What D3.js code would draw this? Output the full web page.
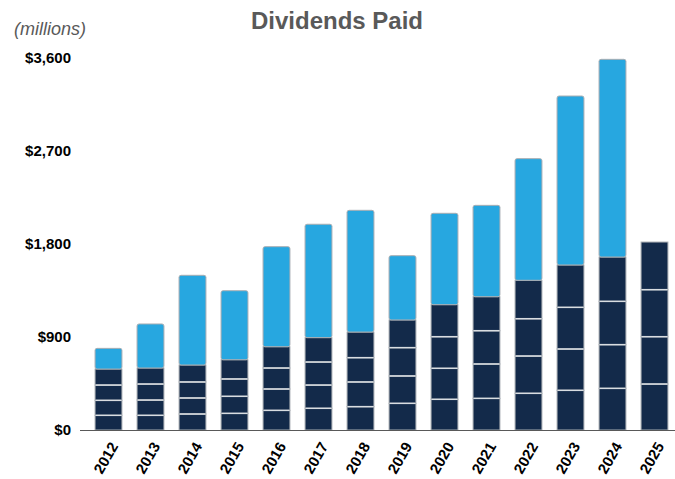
<!DOCTYPE html>
<html>
<head>
<meta charset="utf-8">
<script src="https://cdn.jsdelivr.net/npm/d3@7"></script>
<style>
  body { margin: 0; background: #fff; }
  svg { display: block; font-family: "Liberation Sans", Arial, sans-serif; }
</style>
</head>
<body>
<svg width="675" height="479"></svg>
<script>
// data (millions)
const years = ["2012","2013","2014","2015","2016","2017","2018","2019","2020","2021","2022","2023","2024","2025"];
const q1 = [142, 142, 155, 161, 190, 210, 226, 258, 297, 306, 355, 384, 403, 445];
const q2 = [145, 148, 155, 165, 207, 225, 239, 265, 300, 333, 361, 400, 423, 458];
const q3 = [148, 155, 155, 168, 203, 223, 235, 274, 306, 322, 361, 403, 419, 455];
const q4 = [155, 155, 164, 186, 206, 236, 248, 268, 310, 329, 372, 410, 429, 461];
const special = [200, 426, 868, 668, 968, 1097, 1178, 622, 884, 884, 1177, 1635, 1913, 0];
const yTicks = [0, 900, 1800, 2700, 3600];

const svg = d3.select("svg");
const baseY = 430, topY = 58;

const rows = years.map((y, i) => ({year: y, q1: q1[i], q2: q2[i], q3: q3[i], q4: q4[i], special: special[i]}));
const keys = ["q1", "q2", "q3", "q4", "special"];
const series = d3.stack().keys(keys)(rows);

const x = d3.scaleBand().domain(years).range([87.5, 675.5]).paddingInner(0.36).paddingOuter(0.18);
const y = d3.scaleLinear().domain([0, 3600]).range([baseY, topY]);

// title
svg.append("text")
    .attr("x", 337).attr("y", 29)
    .attr("text-anchor", "middle")
    .style("font-size", "24px").style("font-weight", "bold")
    .attr("fill", "#595959")
    .text("Dividends Paid");

svg.append("text")
    .attr("x", 14).attr("y", 35)
    .style("font-size", "18px").style("font-style", "italic")
    .attr("fill", "#595959")
    .text("(millions)");

// y labels
svg.append("g").selectAll("text")
    .data(yTicks)
    .enter().append("text")
    .attr("x", 71)
    .attr("y", d => y(d))
    .attr("dy", "0.35em")
    .attr("text-anchor", "end")
    .style("font-size", "15px").style("font-weight", "bold")
    .attr("fill", "#000")
    .text(d => "$" + d3.format(",")(d));

// bars
const g = svg.append("g");
series.forEach(s => {
    const isSpecial = s.key === "special";
    g.append("g").selectAll("rect")
        .data(s.filter(d => d[1] - d[0] > 0))
        .enter().append("rect")
        .attr("x", d => x(d.data.year))
        .attr("width", x.bandwidth())
        .attr("y", d => y(d[1]))
        .attr("height", d => y(d[0]) - y(d[1]))
        .attr("rx", isSpecial ? 2 : 0)
        .attr("fill", isSpecial ? "#27a7e0" : "#132a4a")
        .attr("stroke", "#a9aeb3")
        .attr("stroke-width", 1);
});

// light dividers between quarters
["q1", "q2", "q3"].forEach(k => {
    const s = series.find(t => t.key === k);
    g.append("g").selectAll("line")
        .data(s)
        .enter().append("line")
        .attr("x1", d => x(d.data.year) + 0.5)
        .attr("x2", d => x(d.data.year) + x.bandwidth() - 0.5)
        .attr("y1", d => y(d[1]))
        .attr("y2", d => y(d[1]))
        .attr("stroke", "#d9dde1")
        .attr("stroke-width", 1.5);
});

// x axis
const xAxis = svg.append("g")
    .attr("transform", `translate(0,${baseY})`)
    .call(d3.axisBottom(x).tickSize(0).tickSizeOuter(0));
xAxis.select(".domain").attr("d", `M80,0.5H675`).attr("stroke", "#595959").attr("stroke-width", 1.2);
xAxis.selectAll("text")
    .attr("fill", "#000")
    .style("font-size", "15px").style("font-weight", "bold")
    .style("font-family", "'Liberation Sans', Arial, sans-serif")
    .attr("text-anchor", "end")
    .attr("dy", "0.35em")
    .attr("transform", "translate(3,12) rotate(-60)");
</script>
</body>
</html>
